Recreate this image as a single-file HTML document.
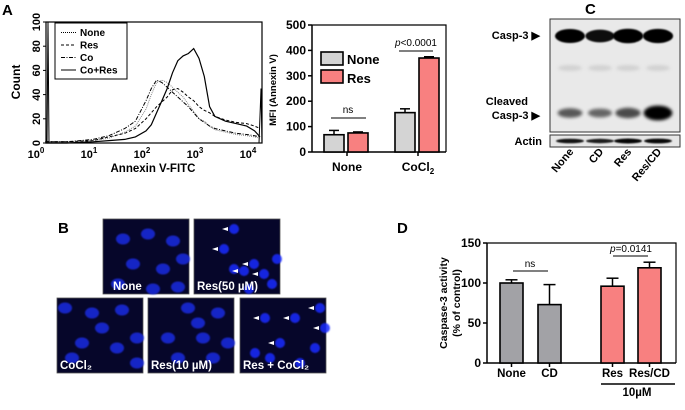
<!DOCTYPE html>
<html><head><meta charset="utf-8">
<style>
html,body{margin:0;padding:0;background:#fff;}
svg{display:block;font-family:"Liberation Sans",Arial,sans-serif;font-weight:bold;}
</style></head>
<body>
<svg id="fig" width="685" height="410" viewBox="0 0 685 410" xmlns="http://www.w3.org/2000/svg">
<defs>
<filter id="blur1" x="-50%" y="-50%" width="200%" height="200%"><feGaussianBlur stdDeviation="1.6"/></filter>
<filter id="blur2" x="-50%" y="-50%" width="200%" height="200%"><feGaussianBlur stdDeviation="0.8"/></filter>
</defs>
<text x="2" y="15" font-size="15">A</text>
<text x="585" y="14" font-size="15">C</text>
<text x="58" y="233" font-size="15">B</text>
<text x="397" y="233" font-size="15">D</text>

<g id="histA"></g>
<g id="barA"></g>
<g id="blotC"></g>
<g id="micB"></g>
<g id="barD"></g>
</svg>
<script>
const histLogX = [0.1,0.5,1.0,1.3,1.6,1.8,2.0,2.1,2.2,2.3,2.4,2.5,2.6,2.7,2.8,2.9,3.0,3.1,3.2,3.3,3.5,3.7,3.9,4.05,4.15];
const histNone = [1,1,2,4,9,14,28,40,50,52,50,46,42,38,32,26,20,18,14,11,9,7,6,5,4];
const histRes  = [1,1,2,5,8,12,20,25,30,34,38,44,45,42,38,35,30,27,25,22,19,17,16,14,12];
const histCo   = [1,1,3,6,12,18,35,45,52,50,46,42,38,34,30,25,20,17,14,12,10,8,7,6,5];
const histCoRes= [0,0,1,2,3,5,10,15,25,35,45,58,68,72,74,78,70,55,30,22,18,16,14,10,5];
const histTicks = ["0","20","40","60","80","100"];
const histLegend = ["None","Res","Co","Co+Res"];

const mfiGroups = ["None","CoCl2"];
const mfiNone = [68,155];
const mfiRes = [75,370];
const mfiNoneErr = [17,15];
const mfiResErr = [4,5];
const mfiTicks = [0,100,200,300,400,500];

const casCats = ["None","CD","Res","Res/CD"];
const casVals = [100,73,96,119];
const casErr = [4,25,10,7];
const casTicks = [0,50,100,150];

const blotLanes = ["None","CD","Res","Res/CD"];
const blotFull = [1.0,0.8,1.1,1.05];
const blotCleaved = [0.45,0.35,0.55,1.1];
const blotActin = [0.8,0.7,0.95,0.9];

const NS="http://www.w3.org/2000/svg";
function mk(parent,tag,attrs,text){const e=document.createElementNS(NS,tag);for(const k in attrs)e.setAttribute(k,attrs[k]);if(text!==undefined)e.textContent=text;parent.appendChild(e);return e;}

(function(){
  const g=document.getElementById('histA');
  const L=46,R=262,T=22,B=143;
  const xs=v=>40+53*v, ys=v=>B-(B-T)*v/100;
  const box=mk(g,'rect',{x:L,y:T,width:R-L,height:B-T,fill:'none',stroke:'#000','stroke-width':1.2});
  
  histTicks.forEach((t,i)=>{const y=ys(i*20);
    mk(g,'line',{x1:L-3,x2:L,y1:y,y2:y,stroke:'#000'});
    const lb=mk(g,'text',{x:40,y:y,'font-size':11,'text-anchor':'middle',transform:`rotate(-90 40 ${y})`},t);
    });
  for(let d=0;d<=4;d++){const x=xs(d);
    const lb=mk(g,'text',{x:x-4,y:158,'font-size':11,'text-anchor':'middle'},'10');
    mk(lb,'tspan',{dy:-5,'font-size':8},String(d));
    }
  const xt=mk(g,'text',{x:153,y:172,'font-size':11.5,'text-anchor':'middle'},'Annexin V-FITC');
  
  const yt=mk(g,'text',{x:20,y:82,'font-size':12,'text-anchor':'middle',transform:'rotate(-90 20 82)'},'Count');
  
  const series=[[histNone,'#888','1,1',1],[histRes,'#000','3,2',1],[histCo,'#000','4,1.5,1,1.5',1],[histCoRes,'#000','',1.2]];
  const names=['line-none','line-res','line-co','line-co-res'];
  series.forEach((s,si)=>{
    const pts=histLogX.map((v,i)=>xs(v).toFixed(1)+','+ys(s[0][i]).toFixed(1));
    const p=mk(g,'polyline',{points:pts.join(' '),fill:'none',stroke:s[1],'stroke-width':s[3],'stroke-dasharray':s[2]});
    });
  mk(g,'polyline',{points:`${L+1},${B} ${L+2},${ys(100)} ${L+3},${B}`,fill:'none',stroke:'#000'});
  mk(g,'polyline',{points:`${R-3},${B} ${R-1},${ys(45)} ${R},${B}`,fill:'none',stroke:'#000'});
  const lg=mk(g,'g',{});
  mk(lg,'rect',{x:55,y:23,width:72,height:56,fill:'#fff',stroke:'#000','stroke-width':1});
  const dashes=['1,1','3,2','4,1.5,1,1.5',''];
  histLegend.forEach((n,i)=>{const y=36+i*12.5;
    mk(lg,'line',{x1:61,x2:76,y1:y-3.5,y2:y-3.5,stroke:'#000','stroke-dasharray':dashes[i]});
    const t=mk(lg,'text',{x:80,y:y,'font-size':10},n);
    });
})();

(function(){
  const g=document.getElementById('barA');
  const L=312,R=446,T=25,B=152;
  const ys=v=>B-(B-T)*v/500;
  const gx=[334,405], bw=20;
  mk(g,'polyline',{points:`${L},${T} ${R},${T} ${R},${B}`,fill:'none',stroke:'#000','stroke-width':1.2});
  mk(g,'line',{x1:L,x2:L,y1:T,y2:B,stroke:'#000','stroke-width':1.5});
  mk(g,'line',{x1:L,x2:R,y1:B,y2:B,stroke:'#000','stroke-width':1.5});
  mfiTicks.forEach(t=>{const y=ys(t);mk(g,'line',{x1:L-4,x2:L,y1:y,y2:y,stroke:'#000','stroke-width':1.5});
    const lb=mk(g,'text',{x:L-6,y:y+4,'font-size':12,'text-anchor':'end'},String(t));
    });
  mfiGroups.forEach((n,i)=>{
    mk(g,'line',{x1:gx[i]+13,x2:gx[i]+13,y1:B,y2:B+4,stroke:'#000','stroke-width':1.5});
    const lb=mk(g,'text',{x:gx[i]+13,y:B+19,'font-size':12,'text-anchor':'middle'},n==='CoCl2'?'CoCl':n);
    if(n==='CoCl2'){mk(lb,'tspan',{dy:3,'font-size':8},'2');}
    
    [[mfiNone,mfiNoneErr,'#d4d4d4',gx[i]-10],[mfiRes,mfiResErr,'#f88080',gx[i]+14]].forEach((s,k)=>{
      const v=s[0][i],e=s[1][i],x=s[3];
      const cx=x+bw/2;
      mk(g,'line',{x1:cx,x2:cx,y1:ys(v),y2:ys(v+e),stroke:'#000','stroke-width':1.5});
      mk(g,'line',{x1:cx-5,x2:cx+5,y1:ys(v+e),y2:ys(v+e),stroke:'#000','stroke-width':1.5});
      const r=mk(g,'rect',{x:x,y:ys(v),width:bw,height:B-ys(v),fill:s[2],stroke:'#000','stroke-width':1.6});
      });
  });
  mk(g,'line',{x1:331,x2:366,y1:118,y2:118,stroke:'#000'});
  mk(g,'text',{x:348,y:113,'font-size':10,'font-weight':'normal','text-anchor':'middle'},'ns');
  mk(g,'line',{x1:399,x2:433,y1:51,y2:51,stroke:'#000'});
  const pt=mk(g,'text',{x:416,y:46,'font-size':10,'font-weight':'normal','text-anchor':'middle'});
  mk(pt,'tspan',{'font-style':'italic'},'p');mk(pt,'tspan',{},'<0.0001');
  const yt=mk(g,'text',{x:276,y:90,'font-size':9.5,'text-anchor':'middle',transform:'rotate(-90 276 90)'},'MFI  (Annexin V)');
  
  const lg=mk(g,'g',{});
  mk(lg,'rect',{x:321,y:52,width:22,height:13,fill:'#d4d4d4',stroke:'#000','stroke-width':1.6});
  mk(lg,'rect',{x:321,y:70,width:22,height:13,fill:'#f88080',stroke:'#000','stroke-width':1.6});
  mk(lg,'text',{x:347,y:64,'font-size':13},'None');
  mk(lg,'text',{x:347,y:83,'font-size':13},'Res');
})();

(function(){
  const g=document.getElementById('blotC');
  const lx=[570,600,628,658];
  mk(g,'rect',{x:550,y:19,width:130,height:113,fill:'#e9e9e9',stroke:'#333','stroke-width':1});
  mk(g,'rect',{x:550,y:135,width:130,height:12,fill:'#e6e6e6',stroke:'#333','stroke-width':1});
  blotLanes.forEach((n,i)=>{
    const a=blotFull[i];
    const b1=mk(g,'ellipse',{cx:lx[i],cy:36,rx:13+a*2,ry:4+a*3,fill:'#000',opacity:Math.min(1,0.7+a*0.3),filter:'url(#blur2)'});
    
    mk(g,'ellipse',{cx:lx[i],cy:68,rx:12,ry:3,fill:'#bbb',opacity:0.5,filter:'url(#blur1)'});
    const c=blotCleaved[i];
    const b2=mk(g,'ellipse',{cx:lx[i],cy:113,rx:11+c*3,ry:3+c*4,fill:'#000',opacity:Math.min(1,0.35+c*0.6),filter:'url(#blur1)'});
    
    const ac=blotActin[i];
    mk(g,'ellipse',{cx:lx[i],cy:141,rx:14,ry:1.5+ac,fill:'#000',opacity:0.6+ac*0.4,filter:'url(#blur2)'});
    const t=mk(g,'text',{x:lx[i]+4,y:152,'font-size':11,'text-anchor':'end',transform:`rotate(-50 ${lx[i]+4} 152)`},n);
    
  });
  mk(g,'text',{x:540,y:39,'font-size':11,'text-anchor':'end'},'Casp-3 ▶');
  mk(g,'text',{x:528,y:105,'font-size':11,'text-anchor':'end'},'Cleaved');
  mk(g,'text',{x:540,y:119,'font-size':11,'text-anchor':'end'},'Casp-3  ▶');
  mk(g,'text',{x:542,y:145,'font-size':11,'text-anchor':'end'},'Actin');
})();

(function(){
  const g=document.getElementById('micB');
  const panels=[
    [103,219,'None',[[20,20],[45,15],[70,22],[30,45],[60,50],[80,40],[15,65],[50,70],[75,68]],false],
    [194,219,'Res(50 µM)',[[40,10],[30,30],[60,45],[50,52],[70,55],[55,70],[40,50],[78,65],[83,40]],true],
    [57,298,'CoCl₂',[[8,10],[35,15],[65,12],[45,30],[25,45],[60,50],[80,40],[15,60],[80,65]],false],
    [148,298,'Res(10 µM)',[[40,10],[70,15],[20,40],[55,40],[80,45],[30,60],[65,60],[50,25]],false],
    [240,298,'Res + CoCl₂',[[25,20],[55,20],[80,10],[85,30],[40,45],[75,50],[30,60],[60,65],[15,55]],true]];
  panels.forEach((p,pi)=>{
    const pg=mk(g,'g',{});
    mk(pg,'rect',{x:p[0],y:p[1],width:86,height:75,fill:'#06062a',stroke:'#555','stroke-width':0.8});
    const cl=mk(pg,'g',{filter:'url(#blur2)'});
    p[3].forEach(c=>{mk(cl,'ellipse',{cx:p[0]+c[0],cy:p[1]+c[1],rx:p[4]?5:7,ry:p[4]?5:5.5,fill:p[4]?'#1a2cff':'#1a2ae0',opacity:0.85});});
    if(p[4]){p[3].slice(0,5).forEach(c=>{mk(pg,'path',{d:`M${p[0]+c[0]-12},${p[1]+c[1]} l6,-2 l0,4 z`,fill:'#fff'});});}
    const t=mk(pg,'text',{x:p[0]+(pi===0?10:3),y:p[1]+71,'font-size':11.5,fill:'#fff'},p[2]);
    
  });
})();

(function(){
  const g=document.getElementById('barD');
  const L=487,R=676,T=243,B=363;
  const ys=v=>B-(B-T)*v/150;
  const bx=[500,538,601,638], bw=23;
  mk(g,'polyline',{points:`${L},${T} ${R},${T} ${R},${B}`,fill:'none',stroke:'#000','stroke-width':1.2});
  mk(g,'line',{x1:L,x2:L,y1:T,y2:B,stroke:'#000','stroke-width':1.5});
  mk(g,'line',{x1:L,x2:R,y1:B,y2:B,stroke:'#000','stroke-width':1.5});
  casTicks.forEach(t=>{const y=ys(t);mk(g,'line',{x1:L-4,x2:L,y1:y,y2:y,stroke:'#000','stroke-width':1.5});
    const lb=mk(g,'text',{x:L-6,y:y+4,'font-size':12,'text-anchor':'end'},String(t));
    });
  casCats.forEach((n,i)=>{
    const v=casVals[i],e=casErr[i],x=bx[i],cx=x+bw/2;
    mk(g,'line',{x1:cx,x2:cx,y1:ys(v),y2:ys(v+e),stroke:'#000','stroke-width':1.5});
    mk(g,'line',{x1:cx-6,x2:cx+6,y1:ys(v+e),y2:ys(v+e),stroke:'#000','stroke-width':1.5});
    const r=mk(g,'rect',{x:x,y:ys(v),width:bw,height:B-ys(v),fill:i<2?'#a2a2a6':'#f88080',stroke:'#000','stroke-width':1.6});
    
    mk(g,'line',{x1:cx,x2:cx,y1:B,y2:B+4,stroke:'#000','stroke-width':1.5});
    const lb=mk(g,'text',{x:cx,y:377,'font-size':11.5,'text-anchor':'middle'},n);
    
  });
  mk(g,'line',{x1:513,x2:548,y1:271,y2:271,stroke:'#000'});
  mk(g,'text',{x:530,y:267,'font-size':10,'font-weight':'normal','text-anchor':'middle'},'ns');
  mk(g,'line',{x1:613,x2:648,y1:256,y2:256,stroke:'#000'});
  const pt=mk(g,'text',{x:631,y:252,'font-size':10,'font-weight':'normal','text-anchor':'middle'});
  mk(pt,'tspan',{'font-style':'italic'},'p');mk(pt,'tspan',{},'=0.0141');
  mk(g,'line',{x1:601,x2:675,y1:384,y2:384,stroke:'#000','stroke-width':1.5});
  mk(g,'text',{x:637,y:396,'font-size':11.5,'text-anchor':'middle'},'10µM');
  const y1=mk(g,'text',{x:447,y:303,'font-size':10.5,'text-anchor':'middle',transform:'rotate(-90 447 303)'},'Caspase-3 activity');
  
  mk(g,'text',{x:460,y:303,'font-size':10.5,'text-anchor':'middle',transform:'rotate(-90 460 303)'},'(% of control)');
})();
</script>
</body></html>
